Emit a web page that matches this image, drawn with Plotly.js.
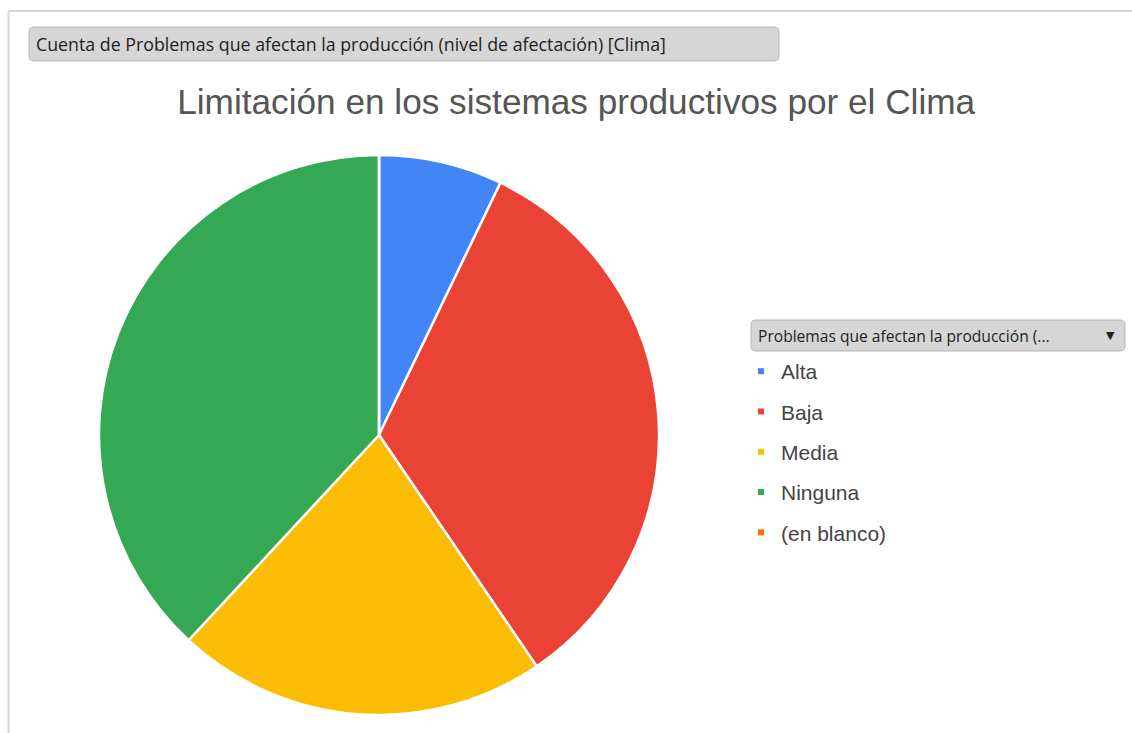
<!DOCTYPE html>
<html>
<head>
<meta charset="utf-8">
<script src="https://cdn.plot.ly/plotly-3.0.1.min.js"></script>
<style>html,body{margin:0;padding:0;background:#fff;}#chart{width:1132px;height:733px;}</style>
</head>
<body>
<div id="chart"></div>
<script>
var categories = ["Alta", "Baja", "Media", "Ninguna", "(en blanco)"];
var counts = [3, 14, 9, 16, 0];
var colors = ["#4285F4", "#EA4335", "#FBBC04", "#34A853", "#FF6D01"];
var chartTitle = "Limitación en los sistemas productivos por el Clima";
var fieldButton = "Cuenta de Problemas que afectan la producción (nivel de afectación) [Clima]";
var legendButton = "Problemas que afectan la producción (...";

var W = 1132, H = 733;
function px(x){return x/W;}
function py(y){return 1 - y/H;}

var traces = [{
  type: "pie",
  labels: categories,
  values: counts,
  sort: false,
  direction: "clockwise",
  rotation: 0,
  marker: {colors: colors, line: {color: "#ffffff", width: 2.5}},
  textinfo: "none",
  hoverinfo: "label+value+percent",
  showlegend: false,
  domain: {x: [px(99), px(659)], y: [py(715), py(155)]}
}];
categories.forEach(function(c, i){
  traces.push({
    type: "scatter", mode: "markers", x: [null], y: [null],
    name: c, legendgroup: "g" + i,
    marker: {symbol: "square", size: 6, color: colors[i]},
    showlegend: true, xaxis: "x", yaxis: "y"
  });
});

function roundRect(x0, y0, x1, y1, r){
  return "M" + (x0+r) + "," + y0 + " L" + (x1-r) + "," + y0 +
    " Q" + x1 + "," + y0 + " " + x1 + "," + (y0+r) +
    " L" + x1 + "," + (y1-r) + " Q" + x1 + "," + y1 + " " + (x1-r) + "," + y1 +
    " L" + (x0+r) + "," + y1 + " Q" + x0 + "," + y1 + " " + x0 + "," + (y1-r) +
    " L" + x0 + "," + (y0+r) + " Q" + x0 + "," + y0 + " " + (x0+r) + "," + y0 + " Z";
}

var layout = {
  width: W, height: H,
  margin: {l: 0, r: 0, t: 0, b: 0},
  paper_bgcolor: "#ffffff",
  plot_bgcolor: "rgba(0,0,0,0)",
  xaxis: {visible: false, range: [0, W], domain: [0, 1], fixedrange: true},
  yaxis: {visible: false, range: [H, 0], domain: [0, 1], fixedrange: true},
  title: {
    text: chartTitle,
    font: {family: "'Liberation Sans', Arial, sans-serif", size: 35.2, color: "#555555"},
    x: 0.509, xanchor: "center", y: py(102), yanchor: "middle"
  },
  showlegend: true,
  legend: {
    x: px(741), xanchor: "left", y: py(351), yanchor: "top",
    font: {family: "'Liberation Sans', Arial, sans-serif", size: 21, color: "#444444"},
    tracegroupgap: 10, itemwidth: 30,
    bgcolor: "rgba(0,0,0,0)"
  },
  shapes: [
    {type: "line", xref: "x", yref: "y", x0: 8.5, x1: W, y0: 11, y1: 11, line: {color: "#d8d8d8", width: 2}},
    {type: "line", xref: "x", yref: "y", x0: 8.5, x1: 8.5, y0: 11, y1: H, line: {color: "#d8d8d8", width: 2}},
    {type: "path", xref: "x", yref: "y", path: roundRect(29, 27, 779, 61, 5), fillcolor: "#d6d6d6", line: {color: "#b5b5b5", width: 1}},
    {type: "path", xref: "x", yref: "y", path: roundRect(751, 320, 1125, 351, 5), fillcolor: "#d6d6d6", line: {color: "#b5b5b5", width: 1}}
  ],
  annotations: [
    {xref: "x", yref: "y", x: 34, y: 44, xanchor: "left", yanchor: "middle", showarrow: false,
     text: fieldButton, font: {family: "'Open Sans', sans-serif", size: 17.8, color: "#222222"}},
    {xref: "x", yref: "y", x: 756, y: 336, xanchor: "left", yanchor: "middle", showarrow: false,
     text: legendButton, font: {family: "'Open Sans', sans-serif", size: 15.6, color: "#222222"}},
    {xref: "x", yref: "y", x: 1110, y: 335, xanchor: "center", yanchor: "middle", showarrow: false,
     text: "▼", font: {family: "'DejaVu Sans', sans-serif", size: 11, color: "#222222"}}
  ]
};

Plotly.newPlot("chart", traces, layout, {displayModeBar: false, staticPlot: true});
</script>
</body>
</html>
